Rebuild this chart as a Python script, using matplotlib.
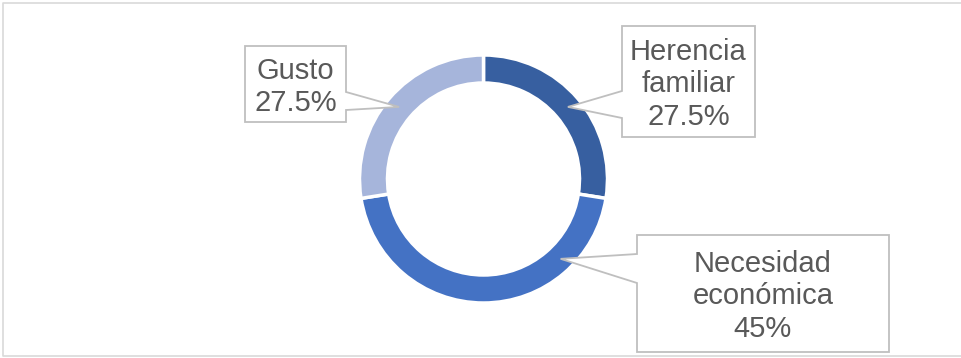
import numpy as np
import matplotlib.pyplot as plt
from matplotlib.patches import Polygon

# data
categories = ['Herencia familiar', 'Necesidad económica', 'Gusto']
shares = [27.5, 45, 27.5]
label_text = ['Herencia\nfamiliar\n27.5%', 'Necesidad\neconómica\n45%', 'Gusto\n27.5%']
colors = ['#375FA0', '#4472C4', '#A6B5DB']

W, H = 962, 358
fig = plt.figure(figsize=(W / 100, H / 100), dpi=100)
ax = fig.add_axes([0, 0, 1, 1])

# outer frame
ax.plot([W + 5, 3, 3, W + 5], [2.5, 2.5, 355.5, 355.5], color='#D9D9D9', lw=1.2, clip_on=False)

cx, cy, r_out, r_in = 483.5, 179, 124, 96
# y axis is flipped, so counterclock=True on data coords reads clockwise on screen
wedges, _ = ax.pie(shares, colors=colors, startangle=-90, counterclock=True,
                   center=(cx, cy), radius=r_out, frame=True,
                   wedgeprops=dict(width=r_out - r_in, edgecolor='white', linewidth=2.5))
ax.set_xlim(0, W)
ax.set_ylim(H, 0)
ax.set_aspect('equal')
ax.axis('off')

# callout boxes: box extent, pointer side, pointer base y's, pointer angle (deg, screen)
boxes = [
    ((622, 755, 26, 137), 'left', (91, 118), 40.5),
    ((637, 889, 235, 352), 'left', (254, 283), -46),
    ((245, 346, 46, 122), 'right', (92, 110), 139.5),
]
r_tip = 111
for ((x0, x1, y0, y1), side, (b1, b2), ang), txt in zip(boxes, label_text):
    tx = cx + r_tip * np.cos(np.radians(ang))
    ty = cy - r_tip * np.sin(np.radians(ang))
    if side == 'left':
        pts = [(x0, y0), (x1, y0), (x1, y1), (x0, y1), (x0, b2), (tx, ty), (x0, b1)]
    else:
        pts = [(x0, y0), (x1, y0), (x1, b1), (tx, ty), (x1, b2), (x1, y1), (x0, y1)]
    ax.add_patch(Polygon(pts, closed=True, facecolor='white', edgecolor='#BFBFBF',
                         lw=1.3, joinstyle='miter', zorder=3))
    ax.text((x0 + x1) / 2, (y0 + y1) / 2 + 3, txt, ha='center', va='center',
            fontsize=21, color='#595959', family='Liberation Sans',
            linespacing=1.22, zorder=4)

fig.savefig('out.png', dpi=100)
